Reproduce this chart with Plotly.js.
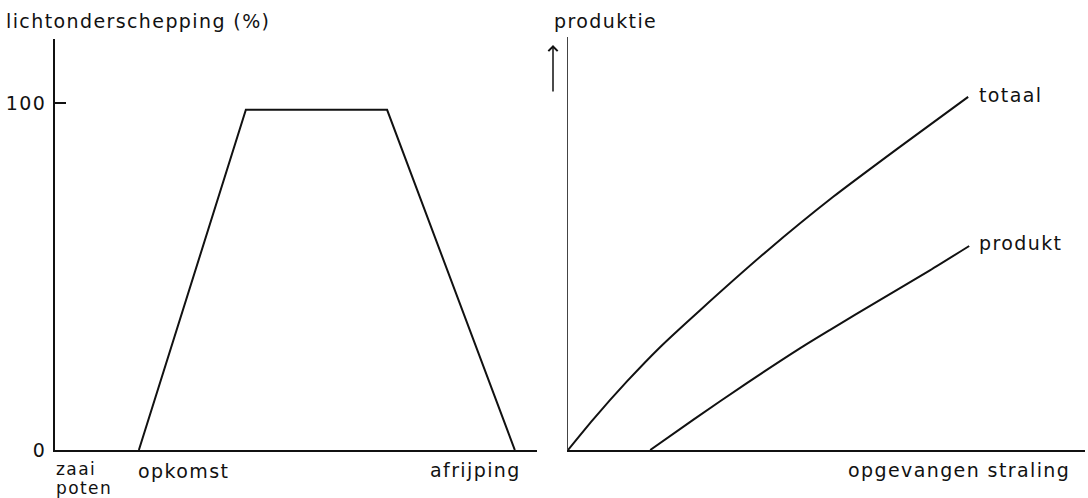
<!DOCTYPE html>
<html>
<head>
<meta charset="utf-8">
<script src="https://cdn.plot.ly/plotly-3.0.1.min.js"></script>
<style>
html,body{margin:0;padding:0;background:#fff}
#chart{width:1088px;height:498px}
text{letter-spacing:1.4px}
</style>
</head>
<body>
<div id="chart"></div>
<script>
// Left panel: light interception over the season (%)
const seasonX = [17.4, 39.6, 68.9, 95.4];
const interceptY = [0, 98, 98, 0];
const leftTickVals = [0, 100];
const leftTickText = ["0", "100"];

// Right panel: production vs intercepted radiation
const totaalX = [0, 4.8, 11.4, 17.8, 25.5, 38.5, 51.3, 64.2, 77.4];
const totaalY = [0, 7.3, 16.6, 24.9, 33.8, 48.2, 61.3, 73.4, 85.5];
const produktX = [15.9, 24.2, 34.6, 44.7, 50.7, 60.3, 70.0, 77.6];
const produktY = [0, 7.3, 16.2, 24.5, 29.1, 36.3, 43.5, 49.4];

const W = 1088, H = 498;
const px = x => x / W;
const py = y => (H - y) / H;
const FONT = {family: "DejaVu Sans", size: 19, color: "#111"};
const SMALL = {family: "DejaVu Sans", size: 17, color: "#111"};

const traces = [
  {x: seasonX, y: interceptY, xaxis: "x", yaxis: "y", mode: "lines",
   line: {color: "#111", width: 2}, cliponaxis: false, hoverinfo: "skip"},
  {x: totaalX, y: totaalY, xaxis: "x2", yaxis: "y2", mode: "lines", line: {shape: "spline", smoothing: 0.6, color: "#111", width: 2}, cliponaxis: false, hoverinfo: "skip"},
  {x: produktX, y: produktY, xaxis: "x2", yaxis: "y2", mode: "lines", line: {shape: "spline", smoothing: 0.6, color: "#111", width: 2}, cliponaxis: false, hoverinfo: "skip"}
];

const baseAx = {showgrid: false, zeroline: false, showline: true, linecolor: "#111", fixedrange: true};

const layout = {
  width: W, height: H,
  margin: {l: 0, r: 0, t: 0, b: 0},
  paper_bgcolor: "#fff", plot_bgcolor: "#fff",
  showlegend: false,
  font: FONT,
  xaxis: Object.assign({}, baseAx, {domain: [px(55), px(537)], range: [0, 100], linewidth: 2, showticklabels: false, ticks: "", anchor: "y"}),
  yaxis: Object.assign({}, baseAx, {domain: [py(450), py(39)], range: [0, 118.4], linewidth: 2, anchor: "x",
    tickmode: "array", tickvals: leftTickVals, ticktext: leftTickText, ticks: "inside", ticklen: 11, tickwidth: 2, tickcolor: "#111",
    ticklabelstandoff: 3, tickfont: FONT}),
  xaxis2: Object.assign({}, baseAx, {domain: [px(568), px(1085)], range: [0, 100], linewidth: 1.5, showticklabels: false, ticks: "", anchor: "y2"}),
  yaxis2: Object.assign({}, baseAx, {domain: [py(450), py(37)], range: [0, 100], linewidth: 1.5, linecolor: "#444", showticklabels: false, ticks: "", anchor: "x2"}),
  annotations: [
    {text: "lichtonderschepping (%)", xref: "paper", yref: "paper", x: px(4), y: py(21), xanchor: "left", yanchor: "middle", showarrow: false, font: FONT},
    {text: "zaai", xref: "paper", yref: "paper", x: px(54), y: py(469), xanchor: "left", yanchor: "middle", showarrow: false, font: SMALL},
    {text: "poten", xref: "paper", yref: "paper", x: px(54), y: py(488), xanchor: "left", yanchor: "middle", showarrow: false, font: SMALL},
    {text: "opkomst", xref: "x", yref: "paper", x: seasonX[0], xshift: -3, y: py(471), xanchor: "left", yanchor: "middle", showarrow: false, font: FONT},
    {text: "afrijping", xref: "x", yref: "paper", x: seasonX[3], xshift: 8, y: py(470), xanchor: "right", yanchor: "middle", showarrow: false, font: FONT},
    {text: "produktie", xref: "paper", yref: "paper", x: px(552), y: py(21), xanchor: "left", yanchor: "middle", showarrow: false, font: FONT},
    {text: "", xref: "paper", yref: "paper", x: px(553), y: py(45), ax: 0, ay: 48, showarrow: true, arrowhead: 4, arrowsize: 1.2, arrowwidth: 1.5, arrowcolor: "#111"},
    {text: "totaal", xref: "x2", yref: "y2", x: totaalX[totaalX.length - 1], y: totaalY[totaalY.length - 1], xshift: 9, yshift: 2, xanchor: "left", yanchor: "middle", showarrow: false, font: FONT},
    {text: "produkt", xref: "x2", yref: "y2", x: produktX[produktX.length - 1], y: produktY[produktY.length - 1], xshift: 8, yshift: 3, xanchor: "left", yanchor: "middle", showarrow: false, font: FONT},
    {text: "opgevangen straling", xref: "paper", yref: "paper", x: px(1072), y: py(470), xanchor: "right", yanchor: "middle", showarrow: false, font: FONT}
  ]
};

Plotly.newPlot("chart", traces, layout, {staticPlot: true, displayModeBar: false});
</script>
</body>
</html>
